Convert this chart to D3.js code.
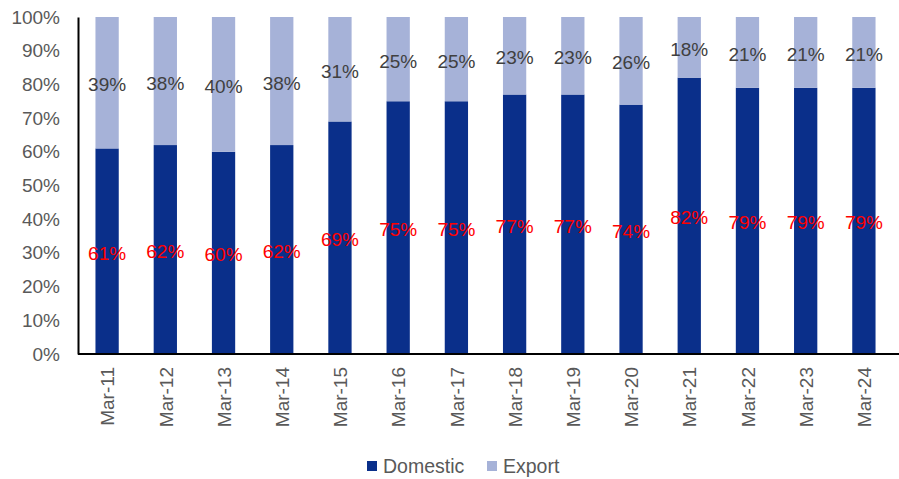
<!DOCTYPE html>
<html>
<head>
<meta charset="utf-8">
<script src="https://cdn.jsdelivr.net/npm/d3@7"></script>
<style>
  body { margin: 0; background: #fff; }
  svg { display: block; font-family: "Liberation Sans", Arial, sans-serif; }
</style>
</head>
<body>
<svg id="chart" width="899" height="479"></svg>
<script>
const categories = ["Mar-11","Mar-12","Mar-13","Mar-14","Mar-15","Mar-16","Mar-17","Mar-18","Mar-19","Mar-20","Mar-21","Mar-22","Mar-23","Mar-24"];
const domestic = [61, 62, 60, 62, 69, 75, 75, 77, 77, 74, 82, 79, 79, 79];
const exportShare = [39, 38, 40, 38, 31, 25, 25, 23, 23, 26, 18, 21, 21, 21];
const yTicks = [0, 10, 20, 30, 40, 50, 60, 70, 80, 90, 100];

const svg = d3.select("#chart");
const plot = { left: 78, right: 893, top: 17, bottom: 354 };
const fs = 19;

const x = d3.scaleBand().domain(categories).range([plot.left, plot.right]).paddingInner(0.6).paddingOuter(0.3);
const y = d3.scaleLinear().domain([0, 100]).range([plot.bottom, plot.top]);

const cDom = "#0A2F8A", cExp = "#A6B2D8";

const g = svg.append("g");

categories.forEach((c, i) => {
  const d = domestic[i];
  g.append("rect")
    .attr("x", x(c)).attr("width", x.bandwidth())
    .attr("y", y(d)).attr("height", y(0) - y(d))
    .attr("fill", cDom);
  g.append("rect")
    .attr("x", x(c)).attr("width", x.bandwidth())
    .attr("y", y(100)).attr("height", y(d) - y(100))
    .attr("fill", cExp);
});

// value labels, centred in each segment
categories.forEach((c, i) => {
  const d = domestic[i], e = exportShare[i];
  const cx = x(c) + x.bandwidth() / 2;
  g.append("text").attr("x", cx).attr("y", y(d / 2)).attr("dy", "0.45em")
    .attr("text-anchor", "middle").attr("font-size", fs).attr("fill", "#FF0000")
    .text(d + "%");
  g.append("text").attr("x", cx).attr("y", y(d + e / 2)).attr("dy", "0.45em")
    .attr("text-anchor", "middle").attr("font-size", fs).attr("fill", "#404040")
    .text(e + "%");
});

// y axis
const yAxis = svg.append("g").attr("transform", `translate(${plot.left},0)`)
  .call(d3.axisLeft(y).tickValues(yTicks).tickSize(0).tickPadding(18).tickFormat(v => v + "%"));
yAxis.select(".domain").attr("stroke", "#000").attr("stroke-width", 2);
yAxis.selectAll("text").attr("font-size", fs).attr("fill", "#595959").attr("font-family", "Liberation Sans, Arial, sans-serif");

// x axis
const xAxis = svg.append("g").attr("transform", `translate(0,${plot.bottom})`)
  .call(d3.axisBottom(x).tickSize(0).tickPadding(0));
xAxis.select(".domain").attr("stroke", "#000").attr("stroke-width", 2).attr("d", `M${plot.left},0H${899}`);
xAxis.selectAll("text")
  .attr("font-size", fs).attr("fill", "#595959").attr("font-family", "Liberation Sans, Arial, sans-serif")
  .attr("transform", "rotate(-90)")
  .attr("text-anchor", "end").attr("x", -13).attr("y", 0).attr("dy", "0.38em");

// legend
const legend = svg.append("g").attr("font-size", 19.5).attr("fill", "#595959");
const items = [{ name: "Domestic", color: cDom, x: 367 }, { name: "Export", color: cExp, x: 487 }];
items.forEach(it => {
  legend.append("rect").attr("x", it.x).attr("y", 461).attr("width", 10).attr("height", 10).attr("fill", it.color);
  legend.append("text").attr("x", it.x + 16).attr("y", 466).attr("dy", "0.36em").text(it.name);
});
</script>
</body>
</html>
